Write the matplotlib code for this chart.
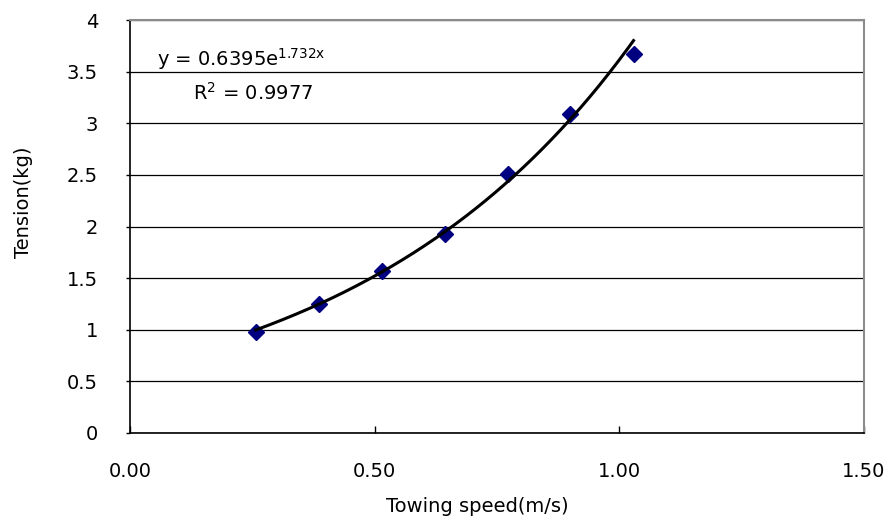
import numpy as np
import matplotlib
matplotlib.use("Agg")
import matplotlib.pyplot as plt

plt.rcParams['font.family'] = ['DejaVu Sans']
plt.rcParams['mathtext.default'] = 'regular'

# data
speed = [0.257, 0.386, 0.514, 0.643, 0.772, 0.900, 1.029]
tension = [0.98, 1.25, 1.57, 1.93, 2.51, 3.09, 3.67]
fit_a = 0.6395
fit_b = 1.732
r2 = 0.9977
xticks = [0.0, 0.5, 1.0, 1.5]
xticklabels = ["0.00", "0.50", "1.00", "1.50"]
yticks = [0, 0.5, 1, 1.5, 2, 2.5, 3, 3.5, 4]
yticklabels = ["0", "0.5", "1", "1.5", "2", "2.5", "3", "3.5", "4"]

fig = plt.figure(figsize=(8.93, 5.2), dpi=100)
ax = fig.add_axes([130/893, 1-433/520, (864-130)/893, (433-20)/520])

ax.set_xlim(0, 1.5)
ax.set_ylim(0, 4)
ax.set_yticks(yticks)
ax.set_yticklabels(yticklabels, fontsize=14)
ax.set_xticks(xticks)
ax.set_xticklabels(xticklabels, fontsize=14)
ax.tick_params(axis='x', direction='in', length=5, width=1, pad=21)
ax.tick_params(axis='y', direction='out', length=3, width=1, pad=20)
ax.yaxis.grid(True, color='black', linewidth=0.9)
ax.set_axisbelow(True)

for s in ['left', 'bottom']:
    ax.spines[s].set_color('black')
    ax.spines[s].set_linewidth(1.2)
for s in ['top', 'right']:
    ax.spines[s].set_color('#8c8c8c')
    ax.spines[s].set_linewidth(1.5)

xs = np.linspace(speed[0], speed[-1], 200)
ax.plot(xs, fit_a*np.exp(fit_b*xs), color='black', linewidth=2.2, zorder=3)
ax.plot(speed, tension, linestyle='none', marker='D', markersize=8,
        color='#000080', zorder=2)

ax.text(0.055, 3.56, f"y = {fit_a}e$^{{{fit_b}x}}$", fontsize=14, ha='left', va='baseline')
ax.text(0.129, 3.225, f"R$^{{2}}$ = {r2}", fontsize=14, ha='left', va='baseline')

ax.set_xlabel("Towing speed(m/s)", fontsize=14)
ax.xaxis.set_label_coords((477-130)/734, -(507-433)/413)
ax.xaxis.label.set_va('center')
ax.set_ylabel("Tension(kg)", fontsize=14)
ax.yaxis.set_label_coords(-(130-23)/734, (433-202)/413)
ax.yaxis.label.set_va('center')

fig.savefig("out.png", dpi=100)
